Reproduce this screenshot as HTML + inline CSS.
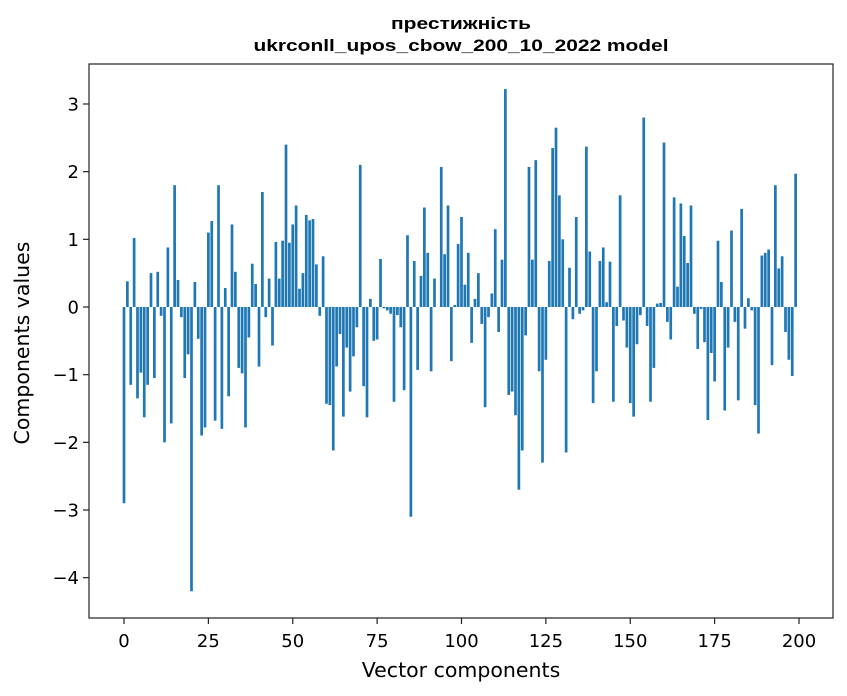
<!DOCTYPE html>
<html><head><meta charset="utf-8"><style>
body{margin:0;background:#fff;font-family:"Liberation Sans","DejaVu Sans",sans-serif;overflow:hidden;}
svg{display:block;}
svg text{font-family:"DejaVu Sans","Liberation Sans",sans-serif;}
svg text.title{font-family:"Liberation Sans","DejaVu Sans",sans-serif;}
</style></head><body>
<svg id="chart" width="847" height="696" xmlns="http://www.w3.org/2000/svg">
<rect width="847" height="696" fill="#fff"/>
<text class="title" x="461" y="29" text-anchor="middle" font-size="17" font-weight="bold" textLength="140" lengthAdjust="spacingAndGlyphs">престижність</text>
<text class="title" x="461" y="51" text-anchor="middle" font-size="17" font-weight="bold" textLength="415" lengthAdjust="spacingAndGlyphs">ukrconll_upos_cbow_200_10_2022 model</text>
<g id="bars"></g>
<g id="xticks"></g>
<g id="yticks"></g>
<rect x="89" y="64" width="744" height="554" fill="none" stroke="#222" stroke-width="1.2"/>
<text x="461" y="677" text-anchor="middle" font-size="20.5">Vector components</text>
<text transform="translate(29,343) rotate(-90)" text-anchor="middle" font-size="20.5">Components values</text>
</svg>
<script>
const values=[-2.9,0.38,-1.15,1.02,-1.35,-0.97,-1.63,-1.15,0.5,-1.05,0.52,-0.13,-2.0,0.88,-1.72,1.8,0.4,-0.15,-1.05,-0.7,
-4.2,0.37,-0.47,-1.9,-1.78,1.1,1.27,-1.68,1.8,-1.8,0.28,-1.32,1.22,0.52,-0.9,-0.98,-1.78,-0.45,0.64,0.34,
-0.88,1.7,-0.15,0.42,-0.57,0.96,0.42,0.98,2.4,0.95,1.22,1.5,0.27,0.5,1.36,1.28,1.3,0.63,-0.13,0.75,
-1.43,-1.45,-2.12,-0.88,-0.4,-1.62,-0.6,-1.25,-0.73,-0.3,2.1,-1.17,-1.63,0.12,-0.5,-0.48,0.71,-0.02,-0.05,-0.1,
-1.4,-0.12,-0.3,-1.23,1.06,-3.1,0.68,-0.93,0.46,1.47,0.8,-0.95,0.42,0.0,2.07,0.78,1.5,-0.8,0.03,0.93,
1.33,0.33,0.8,-0.53,0.12,0.5,-0.25,-1.48,-0.15,0.2,1.15,-0.37,0.7,3.22,-1.3,-1.25,-1.6,-2.7,-2.12,-0.42,
2.07,0.7,2.17,-0.95,-2.3,-0.78,0.68,2.35,2.65,1.65,1.0,-2.15,0.58,-0.18,1.33,-0.1,-0.05,2.37,0.82,-1.42,
-0.95,0.68,0.88,0.07,0.67,-1.4,-0.28,1.65,-0.2,-0.6,-1.42,-1.62,-0.55,-0.12,2.8,-0.28,-1.4,-0.9,0.05,0.06,
2.43,-0.22,-0.48,1.62,0.3,1.53,1.05,0.65,1.5,-0.1,-0.62,-0.03,-0.52,-1.67,-0.68,-1.1,0.98,0.37,-1.53,-0.6,
1.13,-0.22,-1.38,1.45,-0.32,0.13,-0.05,-1.45,-1.87,0.76,0.8,0.85,-0.86,1.8,0.57,0.75,-0.37,-0.78,-1.02,1.97];
const xTickLabels=[0,25,50,75,100,125,150,175,200];
const yTickLabels=[-4,-3,-2,-1,0,1,2,3];
const NS="http://www.w3.org/2000/svg";
const xs=v=>124+v*3.375;
const ys=v=>307-v*67.67;
function mk(tag,attrs,parent){const e=document.createElementNS(NS,tag);for(const k in attrs)e.setAttribute(k,attrs[k]);parent.appendChild(e);return e;}
const bars=document.getElementById('bars');
values.forEach((v,i)=>{
  const y0=ys(0),y1=ys(v);
  const r=mk('rect',{x:xs(i-0.4),y:Math.min(y0,y1),width:0.8*3.375,height:Math.abs(y1-y0),fill:'#1f77b4'},bars);
  
  
});
const xg=document.getElementById('xticks');
xTickLabels.forEach(t=>{
  const l=mk('line',{x1:xs(t),x2:xs(t),y1:618,y2:624,stroke:'#222','stroke-width':1.2},xg);
  
  
  const tx=mk('text',{x:xs(t),y:647,'text-anchor':'middle','font-size':'18'},xg);
  tx.textContent=t;
  
  
});
const yg=document.getElementById('yticks');
yTickLabels.forEach(t=>{
  const l=mk('line',{x1:83,x2:89,y1:ys(t),y2:ys(t),stroke:'#222','stroke-width':1.2},yg);
  
  
  const tx=mk('text',{x:79,y:ys(t)+6.5,'text-anchor':'end','font-size':'18'},yg);
  tx.textContent=t<0?'\u2212'+(-t):t;
  
  
});
</script>
</body></html>
